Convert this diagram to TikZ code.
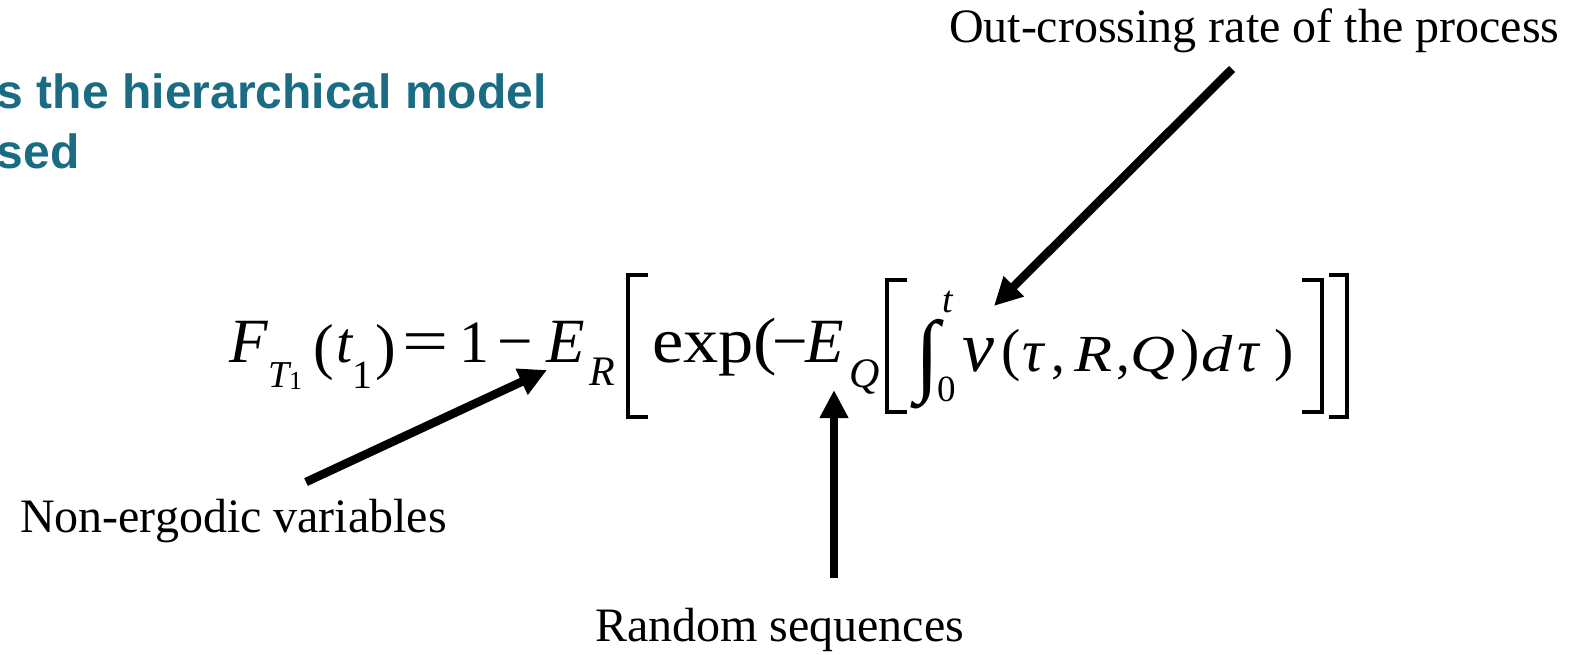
\documentclass[tikz,border=0pt]{standalone}
\usepackage{fontspec}
\setmainfont{Liberation Serif}
\newfontfamily\titlefont{Liberation Sans}
\usetikzlibrary{arrows.meta}
\definecolor{titleteal}{RGB}{26,108,133}
\newcommand{\fs}[1]{\fontsize{#1}{#1}\selectfont}
\newcommand{\wide}[1]{\scalebox{1.2}[1]{#1}}
\tikzset{
  g/.style={inner sep=0pt, outer sep=0pt, anchor=base west},
  up/.style={g, font=\fs{#1}},
  it/.style={g, font=\fs{#1}\itshape},
  lbl/.style={g, font=\fs{48}},
  ttl/.style={g, font=\fs{48}\titlefont\bfseries, text=titleteal},
  brk/.style={line width=3.5pt, line cap=butt, line join=miter},
  arr/.style={line width=8.5pt, -{Triangle[length=28pt,width=27pt]}}
}
\begin{document}
\begin{tikzpicture}[x=1pt,y=-1pt]
\useasboundingbox (0,0) rectangle (1584,654);
\fill[white] (0,0) rectangle (1584,654);
% title
\node[ttl] (t1) at (-3,108) {s the hierarchical model};
\node[ttl] (t2) at (-3,168) {sed};
% formula
\node[it=63] (F) at (229,362) {F};
\node[it=38] (T) at (268,387) {T};
\node[up=26] (T1) at (289,389) {1};
\node[up=62] (lp1) at (313,367) {(};
\node[it=58] (t) at (336,362) {t};
\node[up=40] (t1s) at (352,388) {1};
\node[up=62] (rp1) at (375,367) {)};
\node[up=63] (eq) at (402,362) {\scalebox{1.3}[1]{=}};
\node[up=60] (one) at (459,362) {1};
\node[up=63] (mn1) at (497,362) {−};
\node[it=63] (ER) at (546,362) {E};
\node[it=42] (R) at (589,385) {R};
\draw[brk] (648,275) -- (628,275) -- (628,417) -- (648,417);
\node[up=64] (exp) at (652,362) {\scalebox{1.1}[1]{exp(}};
\node[up=63] (mn2) at (772,362) {−};
\node[it=63] (EQ) at (805,362) {E};
\node[it=42] (Q) at (849,387) {Q};
\draw[brk] (907,280) -- (887,280) -- (887,412) -- (907,412);
\node[up=63] (int) at (915,384) {\scalebox{1.4}[1.45]{∫}};
\node[it=38] (sup) at (942,312) {t};
\node[up=37] (low) at (937,401) {0};
\node[it=72] (nu) at (962,371) {ν};
\node[up=58] (lp2) at (1001,369) {(};
\node[it=60] (tau1) at (1022,371) {τ};
\node[up=55] (c1) at (1051,371) {,};
\node[it=52] (R2) at (1074,371) {\wide{R}};
\node[up=55] (c2) at (1116,371) {,};
\node[it=52] (Q2) at (1130,371) {\wide{Q}};
\node[up=58] (rp2) at (1180,369) {)};
\node[it=52] (d) at (1201,371) {\wide{d}};
\node[it=60] (tau2) at (1237,371) {τ};
\node[up=58] (rp3) at (1274,369) {)};
\draw[brk] (1302,280) -- (1322,280) -- (1322,412) -- (1302,412);
\draw[brk] (1329,275) -- (1347,275) -- (1347,417) -- (1329,417);
% labels
\node[lbl] (lout) at (949,42) {Out-crossing rate of the process};
\node[lbl] (lnon) at (20,532) {Non-ergodic variables};
\node[lbl] (lran) at (595,641) {Random sequences};
% arrows
\coordinate (a1s) at (306,482);
\coordinate (a1e) at (547,370);
\coordinate (a2s) at (834,578);
\coordinate (a2e) at (834,390);
\coordinate (a3s) at (1232,69);
\coordinate (a3e) at (994,306);
\draw[arr] (a1s) -- (a1e);
\draw[arr] (a2s) -- (a2e);
\draw[arr] (a3s) -- (a3e);
\end{tikzpicture}
\end{document}
